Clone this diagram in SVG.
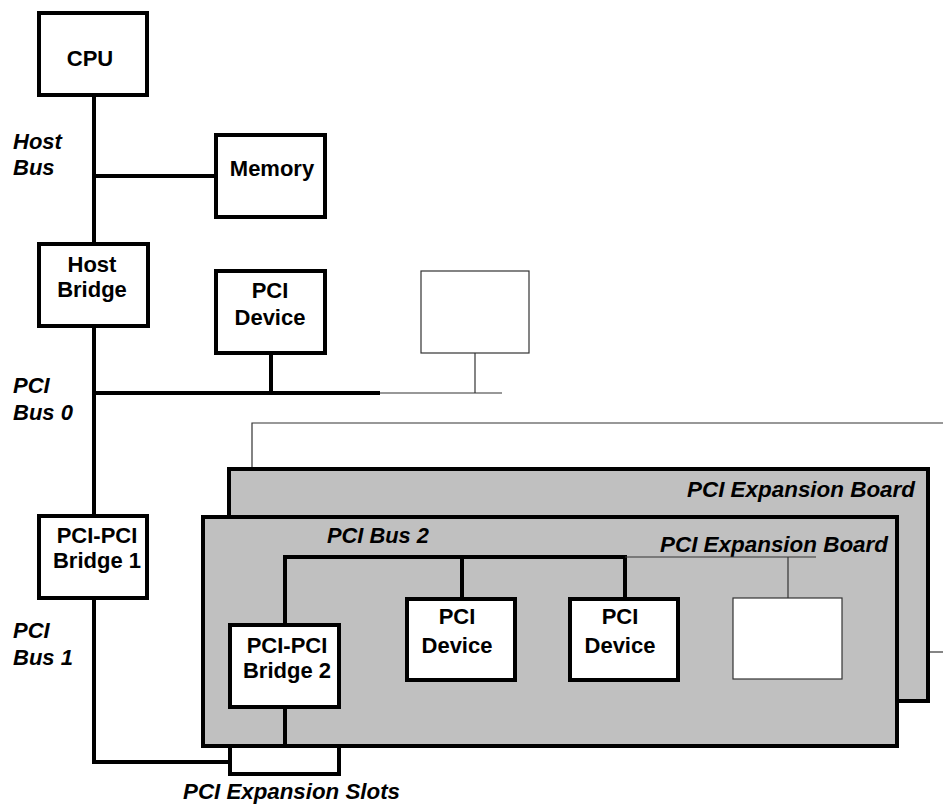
<svg xmlns="http://www.w3.org/2000/svg" width="943" height="806" viewBox="0 0 943 806">
<style>
.box{fill:#fff;stroke:#000;stroke-width:4}
.thinbox{fill:#fff;stroke:#333;stroke-width:1.2}
.board{fill:#c0c0c0;stroke:#000;stroke-width:4}
.bus{fill:none;stroke:#000;stroke-width:4}
.thin{fill:none;stroke:#333;stroke-width:1.2}
.t{font-family:"Liberation Sans",Arial,sans-serif;font-weight:bold;font-size:22px;fill:#000}
.c{text-anchor:middle}
.i{font-style:italic}
</style>
<rect width="943" height="806" fill="#fff"/>
<g id="connectors-back">
<path class="thin" d="M252,467 V423 H943"/>
<path class="thin" d="M929,652 H943"/>
</g>
<g id="board-back">
<rect class="board" x="229" y="469" width="699" height="232"/>
<text class="t i" x="687" y="497" textLength="228" lengthAdjust="spacingAndGlyphs">PCI Expansion Board</text>
</g>
<g id="slots">
<rect class="box" x="230" y="746" width="109" height="28"/>
<text class="t i" x="183" y="799" textLength="217" lengthAdjust="spacingAndGlyphs">PCI Expansion Slots</text>
</g>
<g id="board-front">
<rect class="board" x="203" y="517" width="694" height="229"/>
<text class="t i" x="660" y="552" textLength="228" lengthAdjust="spacingAndGlyphs">PCI Expansion Board</text>
<text class="t i" x="327" y="543" textLength="102" lengthAdjust="spacingAndGlyphs">PCI Bus 2</text>
</g>
<g id="connectors">
<path class="bus" d="M94,97 V242"/>
<path class="bus" d="M94,176 H214"/>
<path class="bus" d="M94,328 V514"/>
<path class="bus" d="M94,393 H380"/>
<path class="bus" d="M271,355 V393"/>
<path class="thin" d="M380,393 H502"/>
<path class="thin" d="M475,353 V393"/>
<path class="bus" d="M94,599 V762 H228"/>
<path class="bus" d="M285,623 V557 H625 V599"/>
<path class="bus" d="M462,557 V597"/>
<path class="thin" d="M625,557 H816"/>
<path class="thin" d="M788,557 V598"/>
<path class="bus" d="M285,709 V746"/>
</g>
<g id="labels">
<text class="t i" x="13" y="149">Host</text>
<text class="t i" x="13" y="175">Bus</text>
<text class="t i" x="13" y="393">PCI</text>
<text class="t i" x="13" y="420">Bus 0</text>
<text class="t i" x="13" y="638">PCI</text>
<text class="t i" x="13" y="665">Bus 1</text>
</g>
<g id="cpu">
<rect class="box" x="39" y="13" width="108" height="82"/>
<text class="t c" x="90" y="66">CPU</text>
</g>
<g id="memory">
<rect class="box" x="216" y="135" width="109" height="82"/>
<text class="t c" x="272" y="176">Memory</text>
</g>
<g id="host-bridge">
<rect class="box" x="39" y="244" width="109" height="82"/>
<text class="t c" x="92" y="272">Host</text>
<text class="t c" x="92" y="297">Bridge</text>
</g>
<g id="pci-device-0">
<rect class="box" x="216" y="271" width="109" height="82"/>
<text class="t c" x="270" y="298">PCI</text>
<text class="t c" x="270" y="325">Device</text>
</g>
<g id="empty-device-0">
<rect class="thinbox" x="421" y="271" width="108" height="82"/>
</g>
<g id="pci-bridge-1">
<rect class="box" x="39" y="516" width="108" height="82"/>
<text class="t c" x="97" y="543">PCI-PCI</text>
<text class="t c" x="97" y="568">Bridge 1</text>
</g>
<g id="pci-bridge-2">
<rect class="box" x="230" y="625" width="109" height="82"/>
<text class="t c" x="287" y="653">PCI-PCI</text>
<text class="t c" x="287" y="678">Bridge 2</text>
</g>
<g id="pci-device-2a">
<rect class="box" x="407" y="599" width="108" height="81"/>
<text class="t c" x="457" y="624">PCI</text>
<text class="t c" x="457" y="653">Device</text>
</g>
<g id="pci-device-2b">
<rect class="box" x="570" y="599" width="108" height="81"/>
<text class="t c" x="620" y="624">PCI</text>
<text class="t c" x="620" y="653">Device</text>
</g>
<g id="empty-device-2">
<rect class="thinbox" x="733" y="598" width="109" height="81"/>
</g>
</svg>
